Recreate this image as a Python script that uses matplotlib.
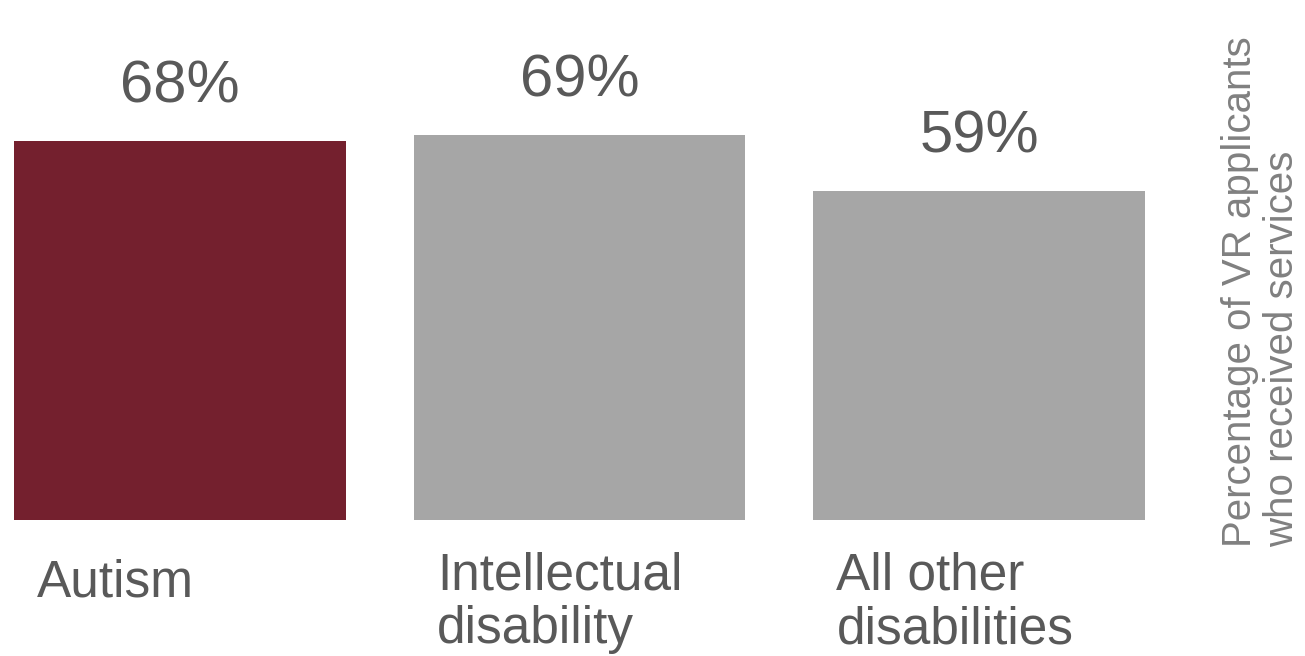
import numpy as np
import matplotlib.pyplot as plt

plt.rcParams['font.family'] = ['Liberation Sans', 'DejaVu Sans']

categories = ["Autism", "Intellectual\ndisability", "All other\ndisabilities"]
values = [68, 69, 59]
colors = ["#74202E", "#A6A6A6", "#A6A6A6"]
text_color = "#595959"

fig = plt.figure(figsize=(13.05, 6.56), dpi=100)
ax = fig.add_axes([14 / 1305, 136 / 656, 1131 / 1305, 520 / 656])

x = np.arange(len(values))
width = 0.83
ax.bar(x, values, width=width, color=colors)
ax.set_xlim(-width / 2, len(values) - 1 + width / 2)
ax.set_ylim(0, 520 / 5.574)

for xi, v in zip(x, values):
    ax.annotate(f"{v}%", (xi, v), xytext=(0, 28), textcoords="offset points",
                ha="center", va="baseline", fontsize=43, color=text_color)

# category labels under the bars, left aligned (baseline of last line)
label_y = [-13.8, -22.1, -22.1]
for xi, lab, ly in zip(x, categories, label_y):
    ax.text(xi - width / 2 + 0.058, ly, lab, ha="left", va="baseline",
            fontsize=37, color=text_color, linespacing=1.12, clip_on=False)

for s in ax.spines.values():
    s.set_visible(False)
ax.set_xticks([])
ax.set_yticks([])

fig.text(1261 / 1305, 1 - 292 / 656, "Percentage of VR applicants\nwho received services",
         rotation=90, ha="center", va="center", multialignment="left",
         fontsize=29, color="#808080", linespacing=1.12)

fig.savefig("out.png", dpi=100)
